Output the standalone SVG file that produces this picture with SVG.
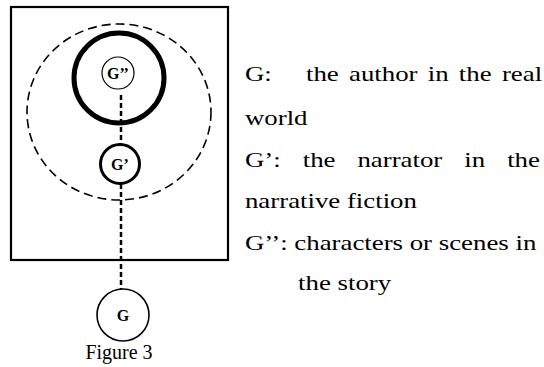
<svg xmlns="http://www.w3.org/2000/svg" width="544" height="367" viewBox="0 0 544 367">
<style>
text{font-family:"Liberation Serif","Times New Roman",serif;fill:#000}
.lbl{font-weight:bold;font-size:16px;text-anchor:middle}
.t text{font-size:22px}
.conn{stroke:#000;stroke-width:2.5;stroke-dasharray:5 3;fill:none}
</style>
<rect width="544" height="367" fill="#fff"/>
<g id="frame"><rect x="11" y="7" width="217" height="253" fill="none" stroke="#000" stroke-width="2.2"/></g>
<g id="fiction"><ellipse cx="119" cy="112" rx="92" ry="88" fill="none" stroke="#000" stroke-width="1.6" stroke-dasharray="9 5"/></g>
<g id="story"><circle cx="119" cy="78" r="45" fill="none" stroke="#000" stroke-width="5"/></g>
<g id="connectors">
<line class="conn" x1="121" y1="95" x2="121" y2="144"/>
<line class="conn" x1="121" y1="184" x2="121" y2="289"/>
</g>
<g id="node-G2"><circle cx="118" cy="73" r="16" fill="#fff" stroke="#000" stroke-width="1.2"/><text class="lbl" x="118" y="78.5">G’’</text></g>
<g id="node-G1"><circle cx="120" cy="164" r="19.5" fill="#fff" stroke="#000" stroke-width="3"/><text class="lbl" x="120" y="169.5">G’</text></g>
<g id="node-G"><circle cx="123" cy="315" r="26" fill="#fff" stroke="#000" stroke-width="1.6"/><text class="lbl" x="123" y="320.5">G</text></g>
<text x="119" y="359" font-size="20" text-anchor="middle">Figure 3</text>
<g id="legend" class="t" transform="matrix(1.22 0 0 1 0 0)">
<text y="81"><tspan x="200.8">G:</tspan><tspan x="250.8">the</tspan><tspan x="286.1">author</tspan><tspan x="350.7">in</tspan><tspan x="376.1">the</tspan><tspan x="411.4">real</tspan></text>
<text x="200.8" y="125">world</text>
<text y="167"><tspan x="200.8">G’:</tspan><tspan x="248.1">the</tspan><tspan x="293">narrator</tspan><tspan x="380.6">in</tspan><tspan x="415.7">the</tspan></text>
<text x="200.8" y="208">narrative fiction</text>
<text x="200.8" y="250">G’’: characters or scenes in</text>
<text x="244.3" y="290">the story</text>
</g>
</svg>
